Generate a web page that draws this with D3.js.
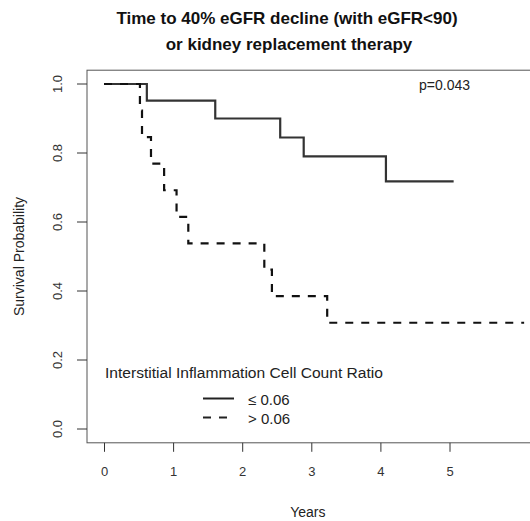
<!DOCTYPE html>
<html>
<head>
<meta charset="utf-8">
<script src="https://cdn.jsdelivr.net/npm/d3@7"></script>
<style>
  body { margin: 0; background: #fff; }
  text { font-family: "Liberation Sans", Arial, sans-serif; }
</style>
</head>
<body>
<div id="chart"></div>
<script>
//data
var lowTimes = [0, 0.62, 1.61, 2.55, 2.89, 4.08, 5.06];
var lowSurv = [1, 0.952, 0.900, 0.845, 0.790, 0.718, 0.718];
var highTimes = [0, 0.52, 0.55, 0.68, 0.87, 1.05, 1.22, 2.32, 2.43, 3.23, 6.08];
var highSurv = [1, 0.923, 0.846, 0.769, 0.692, 0.615, 0.538, 0.462, 0.385, 0.308, 0.308];
var xTicks = [0, 1, 2, 3, 4, 5];
var yTicks = [0, 0.2, 0.4, 0.6, 0.8, 1.0];
var legendLabels = ['\u2264 0.06', '> 0.06'];

var w = 530;
var h = 521;

var svg = d3.select('#chart')
            .append('svg')
            .attr('width', w)
            .attr('height', h);

//scales, R style with 4% padding
var x = d3.scaleLinear().domain([0, 5]).range([104, 449.5]);
var y = d3.scaleLinear().domain([0, 1]).range([429, 84]);
var xMin = -0.246, xMax = 6.4;

//plot box
svg.append('rect')
   .attr('x', x(xMin))
   .attr('y', y(1.04))
   .attr('width', x(xMax) - x(xMin))
   .attr('height', y(-0.04) - y(1.04))
   .attr('fill', 'none')
   .attr('stroke', '#555')
   .attr('stroke-width', 1);

//x axis
var xAxis = d3.axisBottom(x)
  .tickValues(xTicks)
  .tickSize(9)
  .tickPadding(15)
  .tickFormat(d3.format('d'));
var gx = svg.append('g')
  .attr('transform', 'translate(0,' + y(-0.04) + ')')
  .call(xAxis);
gx.select('.domain').remove();
gx.selectAll('line').attr('stroke', '#333');
gx.selectAll('text').attr('font-size', 13).attr('fill', '#333');

//y axis
var yAxis = d3.axisLeft(y)
  .tickValues(yTicks)
  .tickSize(10)
  .tickFormat(d3.format('.1f'));
var gy = svg.append('g')
  .attr('transform', 'translate(' + x(xMin) + ',0)')
  .call(yAxis);
gy.select('.domain').remove();
gy.selectAll('line').attr('stroke', '#333');
gy.selectAll('text')
  .attr('font-size', 13)
  .attr('fill', '#333')
  .attr('x', null)
  .attr('dy', null)
  .attr('text-anchor', 'middle')
  .attr('transform', function (d) { return 'translate(-25,' + y(d) + ') rotate(-90)'; })
  .attr('y', 0);
gy.selectAll('.tick').attr('transform', null);
gy.selectAll('.tick line')
  .attr('y1', function (d) { return y(d); })
  .attr('y2', function (d) { return y(d); });

//axis titles
svg.append('text')
   .attr('x', x(2.95))
   .attr('y', 517)
   .attr('text-anchor', 'middle')
   .attr('font-size', 14)
   .attr('fill', '#222')
   .text('Years');

svg.append('text')
   .attr('transform', 'translate(24,' + y(0.5) + ') rotate(-90)')
   .attr('text-anchor', 'middle')
   .attr('font-size', 14)
   .attr('fill', '#222')
   .text('Survival Probability');

//title
svg.append('text')
   .attr('x', 287).attr('y', 24)
   .attr('text-anchor', 'middle')
   .attr('font-size', 17).attr('font-weight', 'bold')
   .attr('fill', '#111')
   .text('Time to 40% eGFR decline (with eGFR<90)');
svg.append('text')
   .attr('x', 289).attr('y', 50)
   .attr('text-anchor', 'middle')
   .attr('font-size', 17).attr('font-weight', 'bold')
   .attr('fill', '#111')
   .text('or kidney replacement therapy');

//step curves
var line = d3.line()
  .x(function (d) { return x(d[0]); })
  .y(function (d) { return y(d[1]); })
  .curve(d3.curveStepAfter);

svg.append('path')
   .datum(d3.zip(lowTimes, lowSurv))
   .attr('d', line)
   .attr('fill', 'none')
   .attr('stroke', '#333')
   .attr('stroke-width', 2.2);

svg.append('path')
   .datum(d3.zip(highTimes, highSurv))
   .attr('d', line)
   .attr('fill', 'none')
   .attr('stroke', '#111')
   .attr('stroke-width', 2.2)
   .attr('stroke-dasharray', '8,8');

//p value
svg.append('text')
   .attr('x', 419).attr('y', 90)
   .attr('font-size', 14)
   .attr('fill', '#222')
   .text('p=0.043');

//legend
svg.append('text')
   .attr('x', 105).attr('y', 378)
   .attr('font-size', 14)
   .attr('fill', '#222')
   .attr('textLength', 278)
   .attr('lengthAdjust', 'spacingAndGlyphs')
   .text('Interstitial Inflammation Cell Count Ratio');

var legend = svg.selectAll('.leg')
  .data(legendLabels)
  .enter()
  .append('g')
  .attr('class', 'leg')
  .attr('transform', function (d, i) { return 'translate(0,' + (398.5 + i * 19) + ')'; });

legend.append('line')
  .attr('x1', 203).attr('x2', 234)
  .attr('y1', 0).attr('y2', 0)
  .attr('stroke', '#222')
  .attr('stroke-width', 2)
  .attr('stroke-dasharray', function (d, i) { return i ? '8,8' : null; });

legend.append('text')
  .attr('x', 248).attr('y', 6)
  .attr('font-size', 15)
  .attr('fill', '#222')
  .text(function (d) { return d; });
</script>
</body>
</html>
